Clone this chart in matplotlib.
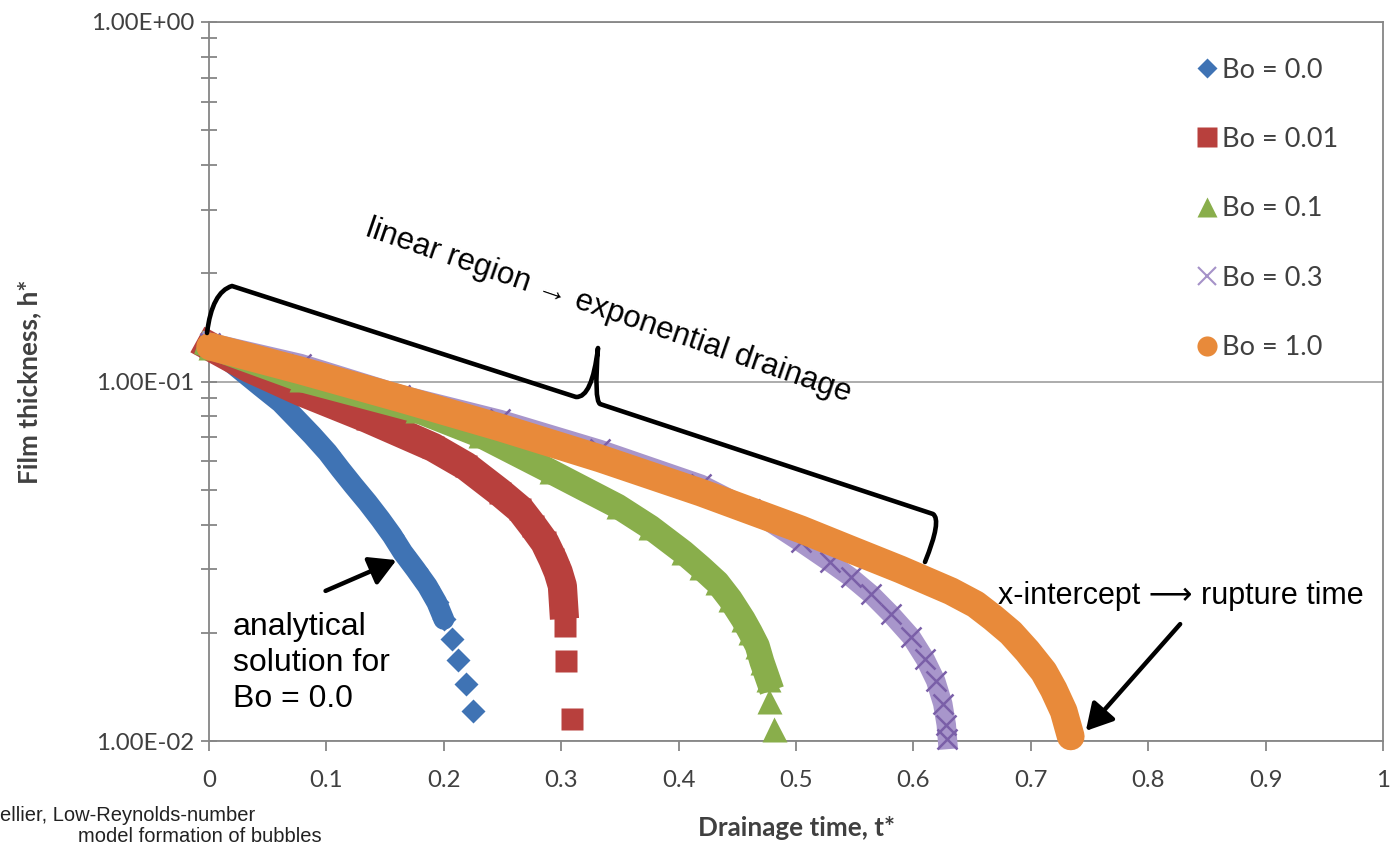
import numpy as np
import matplotlib.pyplot as plt
from matplotlib.lines import Line2D
from matplotlib.path import Path
from matplotlib.patches import PathPatch, FancyArrowPatch

# values (t*, h*)
t_bo00 = [0.001, 0.022, 0.044, 0.061, 0.075, 0.088, 0.101, 0.112, 0.123, 0.135, 0.146,
          0.156, 0.165, 0.176, 0.186, 0.194, 0.200]
h_bo00 = [0.1259, 0.1108, 0.0968, 0.0874, 0.0784, 0.0708, 0.0635, 0.0570, 0.0514, 0.0461,
          0.0414, 0.0373, 0.0335, 0.0300, 0.0270, 0.0243, 0.0218]
t_bo00_tail = [0.207, 0.212, 0.219, 0.225]
h_bo00_tail = [0.0192, 0.0168, 0.0144, 0.0121]

t_bo001 = [0.001, 0.035, 0.078, 0.135, 0.191, 0.219, 0.248, 0.265, 0.276, 0.286, 0.293,
           0.2975, 0.301, 0.302]
h_bo001 = [0.1251, 0.1087, 0.0938, 0.0789, 0.0656, 0.0581, 0.0491, 0.0441, 0.0396, 0.0357,
           0.0320, 0.0295, 0.0270, 0.0240]
t_bo001_tail = [0.3035, 0.304, 0.309]
h_bo001_tail = [0.0209, 0.0167, 0.0115]

t_bo01 = [0.001, 0.078, 0.177, 0.231, 0.291, 0.348, 0.376, 0.404, 0.419, 0.433, 0.444,
          0.455, 0.461, 0.467, 0.471, 0.476]
h_bo01 = [0.1251, 0.1013, 0.0831, 0.0708, 0.0562, 0.0450, 0.0393, 0.0335, 0.0304, 0.0276,
          0.0248, 0.0218, 0.0201, 0.0184, 0.0166, 0.0149]
t_bo01_tail = [0.477, 0.481]
h_bo01_tail = [0.0129, 0.0108]

t_bo03 = [0.001, 0.078, 0.163, 0.248, 0.333, 0.419, 0.461, 0.504, 0.529, 0.547, 0.564,
          0.581, 0.598, 0.610, 0.619, 0.625, 0.628, 0.629]
h_bo03 = [0.1283, 0.1122, 0.0920, 0.0784, 0.0647, 0.0518, 0.0441, 0.0357, 0.0314, 0.0285,
          0.0256, 0.0225, 0.0195, 0.0169, 0.0147, 0.0127, 0.0111, 0.0101]

t_bo1 = [0.001, 0.078, 0.163, 0.248, 0.333, 0.419, 0.504, 0.5465, 0.589, 0.632, 0.653,
         0.668, 0.683, 0.697, 0.711, 0.7195, 0.728, 0.734]
h_bo1 = [0.1251, 0.1073, 0.0897, 0.0745, 0.0611, 0.0491, 0.0388, 0.0341, 0.0300, 0.0261,
         0.0240, 0.0220, 0.0200, 0.0178, 0.0156, 0.0139, 0.0121, 0.0103]

labels = ["Bo = 0.0", "Bo = 0.01", "Bo = 0.1", "Bo = 0.3", "Bo = 1.0"]
colors = {"blue": "#3F73B4", "red": "#B8403D", "green": "#89AE4B",
          "purple": "#7A5FA8", "orange": "#E88A3A"}
xticks = np.arange(0, 1.01, 0.1)
xticklabels = ["0", "0.1", "0.2", "0.3", "0.4", "0.5", "0.6", "0.7", "0.8", "0.9", "1"]
yticks = [0.01, 0.1, 1.0]
yticklabels = ["1.00E-02", "1.00E-01", "1.00E+00"]

W, H = 1392, 844
def fx(px):
    return px / W
def fy(py):
    return 1 - py / H

grey = "#868686"
tick_font = "Lato"
txt_fam = ["Liberation Sans", "DejaVu Sans"]

fig = plt.figure(figsize=(W / 100, H / 100), dpi=100)
ax = fig.add_axes([fx(209), fy(741), fx(1383) - fx(209), fy(22) - fy(741)])
ax.set_yscale("log")
ax.set_xlim(0, 1)
ax.set_ylim(0.01, 1)

# bands (thick line) + markers
ax.plot(t_bo00, h_bo00, "-", color=colors["blue"], lw=15, solid_capstyle="round",
        clip_on=False, zorder=3)
ax.plot(t_bo00 + t_bo00_tail, h_bo00 + h_bo00_tail, "D", color=colors["blue"], ms=12,
        mec="none", clip_on=False, zorder=3)

ax.plot(t_bo001, h_bo001, "-", color=colors["red"], lw=21, clip_on=False, zorder=4)
ax.plot(t_bo001 + t_bo001_tail, h_bo001 + h_bo001_tail, "s", color=colors["red"], ms=16.5,
        mec="none", clip_on=False, zorder=4)

ax.plot(t_bo01, h_bo01, "-", color=colors["green"], lw=18, clip_on=False, zorder=5)
ax.plot(t_bo01 + t_bo01_tail, h_bo01 + h_bo01_tail, "^", color=colors["green"], ms=18,
        mec="none", clip_on=False, zorder=5)

ax.plot(t_bo03, h_bo03, "-", color="#A896CB", lw=14, clip_on=False, zorder=6)
ax.plot(t_bo03, h_bo03, "x", color=colors["purple"], ms=14, mew=1.8, clip_on=False, zorder=6)

ax.plot(t_bo1, h_bo1, "-", color=colors["orange"], lw=20, solid_capstyle="round",
        solid_joinstyle="round", clip_on=False, zorder=7)

# axes styling
for s in ax.spines.values():
    s.set_color(grey)
    s.set_linewidth(1.3)
ax.grid(axis="y", which="major", color="#A6A6A6", lw=1.3)
ax.set_axisbelow(True)
ax.set_xticks(xticks)
ax.set_xticklabels(xticklabels)
ax.set_yticks(yticks)
ax.set_yticklabels(yticklabels)
ax.yaxis.set_minor_locator(plt.LogLocator(base=10, subs=np.arange(2, 10)))
ax.yaxis.set_minor_formatter(plt.NullFormatter())
ax.tick_params(axis="x", direction="out", length=7, width=1.3, color=grey, pad=14,
               labelsize=17.3, labelcolor="#404040")
ax.tick_params(axis="y", which="major", direction="inout", length=11, width=1.3, color=grey,
               pad=5, labelsize=17.3, labelcolor="#404040")
ax.tick_params(axis="y", which="minor", direction="inout", length=11, width=1.3, color=grey)
for lab in ax.get_xticklabels() + ax.get_yticklabels():
    lab.set_family(tick_font)

ax.set_xlabel("Drainage time, t*", family=tick_font, weight="bold", fontsize=18.8,
              color="#404040", labelpad=18)
ax.set_ylabel("Film thickness, h*", family=tick_font, weight="bold", fontsize=18.8,
              color="#404040", labelpad=36)

# legend
handles = [Line2D([], [], ls="none", marker="D", color=colors["blue"], ms=10, mec="none"),
           Line2D([], [], ls="none", marker="s", color=colors["red"], ms=14, mec="none"),
           Line2D([], [], ls="none", marker="^", color=colors["green"], ms=14, mec="none"),
           Line2D([], [], ls="none", marker="x", color="#A592C8", ms=13, mew=1.5),
           Line2D([], [], ls="none", marker="o", color=colors["orange"], ms=14.5, mec="none")]
leg = ax.legend(handles, labels, loc="upper left", bbox_to_anchor=(fx(1183), fy(44)),
                bbox_transform=fig.transFigure, frameon=False, handlelength=0.8,
                handletextpad=0.15, labelspacing=1.64, borderpad=0,
                prop={"family": tick_font, "size": 19.5})
for t in leg.get_texts():
    t.set_color("#404040")

# curly bracket over the curves
verts = [(207, 333), (212, 292), (232, 286), (576, 397), (592, 398), (598, 348),
         (594, 400), (600, 404), (933, 514), (942, 520), (925, 562)]
codes = [Path.MOVETO, Path.CURVE3, Path.CURVE3, Path.LINETO, Path.CURVE3, Path.CURVE3,
         Path.CURVE3, Path.CURVE3, Path.LINETO, Path.CURVE3, Path.CURVE3]
brace = Path([(fx(x), fy(y)) for x, y in verts], codes)
fig.add_artist(PathPatch(brace, transform=fig.transFigure, fill=False, lw=3.3,
                         ec="black", capstyle="round", joinstyle="round", zorder=10))

# annotations
fig.text(fx(609), fy(311), "linear region \u2192 exponential drainage", rotation=-19,
         rotation_mode="anchor", ha="center", va="center", fontsize=22.5, family=txt_fam)
fig.text(fx(233), fy(663), "analytical\nsolution for\nBo = 0.0", ha="left", va="center",
         fontsize=23, family=txt_fam, linespacing=1.25)
fig.text(fx(998), fy(596), "x-intercept \u27f6 rupture time", ha="left", va="center",
         fontsize=22, family=txt_fam)

for (x0, y0), (x1, y1) in [((323, 592), (399, 559)), ((1182, 622), (1084, 733))]:
    fig.add_artist(FancyArrowPatch((fx(x0), fy(y0)), (fx(x1), fy(y1)),
                                   transform=fig.transFigure,
                                   arrowstyle="-|>,head_length=0.8,head_width=0.45",
                                   mutation_scale=20, lw=3.2, color="black", zorder=10))

# source note at the bottom-left edge
fig.text(fx(0), fy(821), "ellier, Low-Reynolds-number", ha="left", va="baseline",
         fontsize=14.5, family=txt_fam, color="#222222")
fig.text(fx(78), fy(842), "model formation of bubbles", ha="left", va="baseline",
         fontsize=14.5, family=txt_fam, color="#222222")

fig.savefig("out.png", dpi=100)
